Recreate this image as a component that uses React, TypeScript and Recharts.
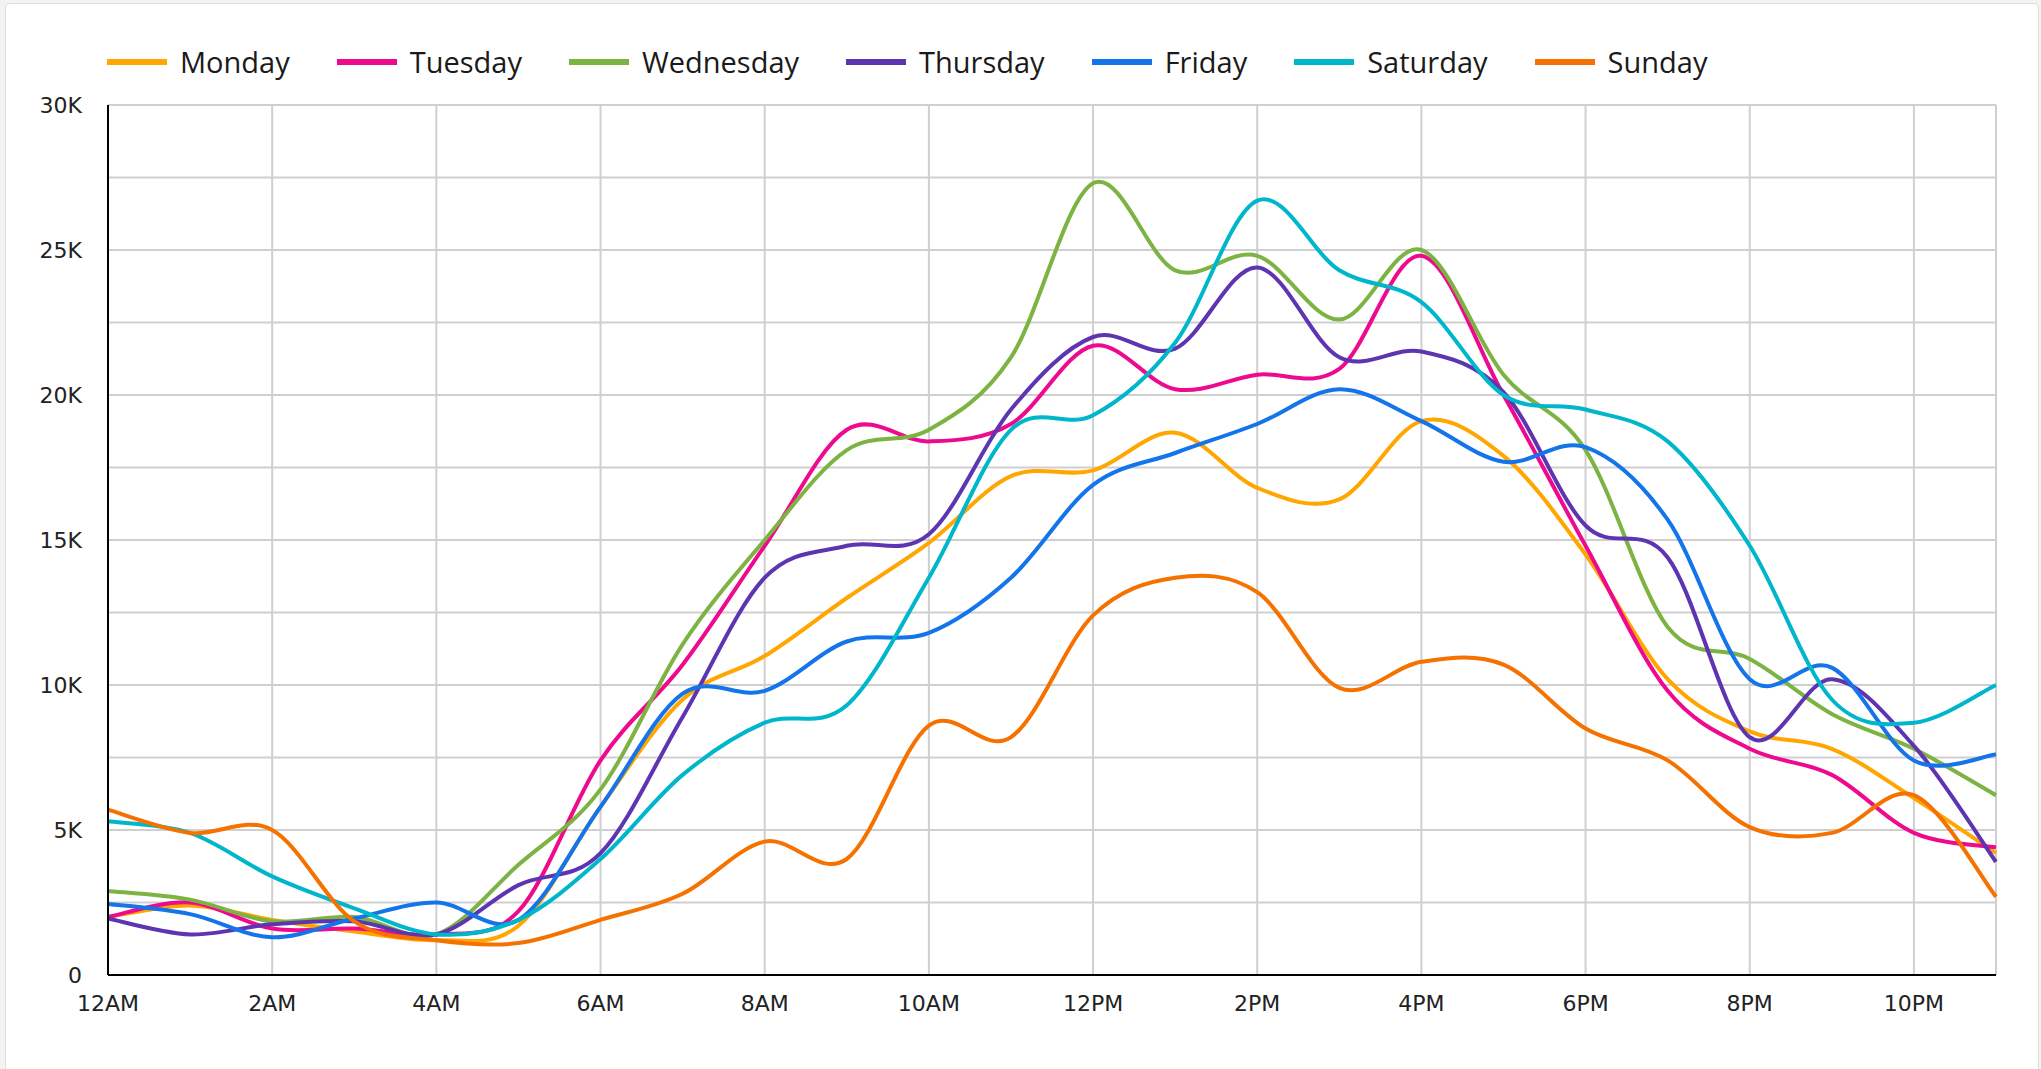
import React from "react";
import { LineChart, Line, XAxis, YAxis, CartesianGrid } from "recharts";

const hourLabels = [
  "12AM", "1AM", "2AM", "3AM", "4AM", "5AM", "6AM", "7AM", "8AM", "9AM", "10AM", "11AM",
  "12PM", "1PM", "2PM", "3PM", "4PM", "5PM", "6PM", "7PM", "8PM", "9PM", "10PM", "11PM",
];
const xTicks = [0, 2, 4, 6, 8, 10, 12, 14, 16, 18, 20, 22];
const yTicks = [0, 2500, 5000, 7500, 10000, 12500, 15000, 17500, 20000, 22500, 25000, 27500, 30000];

const seriesNames = ["Monday", "Tuesday", "Wednesday", "Thursday", "Friday", "Saturday", "Sunday"];
const seriesColors = ["#FFA600", "#EE0A8E", "#7CB342", "#5E35B1", "#1474EA", "#00B6CB", "#F57200"];

const monday = [2000, 2400, 1900, 1500, 1200, 1700, 5800, 9500, 11000, 13000, 14900, 17200, 17400, 18700, 16800, 16400, 19100, 17900, 14500, 10200, 8400, 7800, 6100, 4200];
const tuesday = [2000, 2500, 1600, 1600, 1400, 2200, 7400, 10700, 14800, 18800, 18400, 19000, 21700, 20200, 20700, 20900, 24800, 20000, 14800, 9800, 7800, 6900, 4900, 4400];
const wednesday = [2900, 2600, 1850, 2000, 1400, 3800, 6400, 11400, 15000, 18100, 18800, 21300, 27300, 24300, 24800, 22600, 25000, 20700, 18100, 12000, 10900, 9000, 7800, 6200];
const thursday = [1950, 1400, 1750, 1850, 1400, 3100, 4200, 8900, 13700, 14800, 15200, 19500, 22000, 21600, 24400, 21300, 21500, 20100, 15500, 14400, 8200, 10200, 7900, 3900];
const friday = [2450, 2100, 1300, 1950, 2500, 1900, 5800, 9700, 9800, 11500, 11800, 13700, 16900, 18000, 19000, 20200, 19100, 17700, 18200, 15700, 10200, 10600, 7400, 7600];
const saturday = [5300, 4900, 3400, 2300, 1400, 1900, 4000, 6900, 8700, 9300, 13700, 18800, 19300, 21800, 26700, 24300, 23200, 20000, 19500, 18400, 14800, 9500, 8700, 10000];
const sunday = [5700, 4900, 5000, 1850, 1200, 1100, 1900, 2800, 4600, 4000, 8600, 8200, 12400, 13700, 13200, 9900, 10800, 10700, 8500, 7400, 5100, 4900, 6200, 2700];

const seriesValues = [monday, tuesday, wednesday, thursday, friday, saturday, sunday];

const data = hourLabels.map((label, i) => {
  const row: Record<string, number | string> = { hour: i, label };
  seriesNames.forEach((name, s) => {
    row[name] = seriesValues[s][i];
  });
  return row;
});

// Cardinal (Catmull-Rom style) curve factory, smooth and passing through points
function makeCardinal(tension: number) {
  const k = (1 - tension) / 6;
  return (context: any) => {
    let pts: [number, number][] = [];
    return {
      areaStart() {},
      areaEnd() {},
      lineStart() {
        pts = [];
      },
      point(x: number, y: number) {
        pts.push([+x, +y]);
      },
      lineEnd() {
        const n = pts.length;
        if (n === 0) return;
        context.moveTo(pts[0][0], pts[0][1]);
        if (n === 1) return;
        if (n === 2) {
          context.lineTo(pts[1][0], pts[1][1]);
          return;
        }
        for (let i = 0; i < n - 1; i++) {
          const p0 = pts[Math.max(i - 1, 0)];
          const p1 = pts[i];
          const p2 = pts[i + 1];
          const p3 = pts[Math.min(i + 2, n - 1)];
          context.bezierCurveTo(
            p1[0] + k * (p2[0] - p0[0]),
            p1[1] + k * (p2[1] - p0[1]),
            p2[0] - k * (p3[0] - p1[0]),
            p2[1] - k * (p3[1] - p1[1]),
            p2[0],
            p2[1]
          );
        }
      },
    };
  };
}

const smoothCurve = makeCardinal(0);

const yLabel = (v: number) => (v === 0 ? "0" : v % 5000 === 0 ? `${v / 1000}K` : "");
const xLabel = (v: number) => hourLabels[v] ?? "";

const tickStyle = { fontFamily: "'DejaVu Sans', sans-serif", fontSize: 22, fill: "#222222" };

export default function App() {
  return (
    <div
      style={{
        position: "absolute",
        left: 0,
        top: 0,
        width: 2041,
        height: 1069,
        background: "#f3f3f3",
        overflow: "hidden",
      }}
    >
      <div
        style={{
          position: "absolute",
          left: 5,
          top: 3,
          width: 2034,
          height: 1100,
          background: "#ffffff",
          border: "1.5px solid #dcdcdc",
          borderRadius: 5,
          boxSizing: "border-box",
        }}
      />
      <div
        style={{
          position: "absolute",
          left: 107,
          top: 42,
          height: 40,
          display: "flex",
          alignItems: "center",
          gap: 47,
          fontFamily: "'Open Sans', sans-serif",
          fontSize: 29,
          lineHeight: "40px",
          color: "#1a1a1a",
          whiteSpace: "nowrap",
        }}
      >
        {seriesNames.map((name, i) => (
          <div key={name} style={{ display: "flex", alignItems: "center" }}>
            <div style={{ width: 60, height: 6, background: seriesColors[i], marginRight: 13 }} />
            <span>{name}</span>
          </div>
        ))}
      </div>
      <div style={{ position: "absolute", left: 0, top: 0 }}>
        <LineChart
          width={2041}
          height={1069}
          data={data}
          margin={{ top: 105, right: 45, bottom: 64, left: 0 }}
        >
          <CartesianGrid stroke="#cfcfcf" strokeWidth={2} />
          <XAxis
            dataKey="hour"
            type="number"
            domain={[0, 23]}
            ticks={xTicks}
            tickFormatter={xLabel}
            interval={0}
            height={30}
            tickLine={false}
            tickSize={0}
            tickMargin={20}
            axisLine={{ stroke: "#000000", strokeWidth: 2 }}
            tick={tickStyle}
          />
          <YAxis
            type="number"
            domain={[0, 30000]}
            ticks={yTicks}
            tickFormatter={yLabel}
            interval={0}
            width={108}
            tickLine={false}
            tickSize={0}
            tickMargin={26}
            axisLine={{ stroke: "#000000", strokeWidth: 2 }}
            tick={tickStyle}
          />
          {seriesNames.map((name, i) => (
            <Line
              key={name}
              dataKey={name}
              type={smoothCurve as any}
              stroke={seriesColors[i]}
              strokeWidth={4}
              dot={false}
              activeDot={false}
              isAnimationActive={false}
            />
          ))}
        </LineChart>
      </div>
    </div>
  );
}
